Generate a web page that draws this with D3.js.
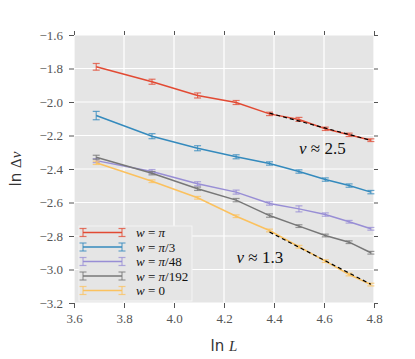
<!DOCTYPE html>
<html>
<head>
<meta charset="utf-8">
<script src="https://cdn.jsdelivr.net/npm/d3@7"></script>
<style>
  body { margin: 0; background: #fff; }
</style>
</head>
<body>
<svg id="chart" width="415" height="359"></svg>
<script>
// system sizes L, plotted as ln L
var sizes = [40, 50, 60, 70, 80, 90, 100, 110, 120];

var seriesLabels = [["\u03c0", ""], ["\u03c0", "/3"], ["\u03c0", "/48"], ["\u03c0", "/192"], ["", "0"]];
var colors = ["#E24A33", "#348ABD", "#988ED5", "#777777", "#FBC15E"];

// ln Δv values
var wPi     = [-1.790, -1.879, -1.961, -2.003, -2.071, -2.104, -2.160, -2.196, -2.228];
var wPi3    = [-2.081, -2.204, -2.276, -2.327, -2.367, -2.415, -2.463, -2.499, -2.538];
var wPi48   = [-2.350, -2.415, -2.488, -2.538, -2.606, -2.638, -2.672, -2.715, -2.757];
var wPi192  = [-2.330, -2.425, -2.518, -2.586, -2.678, -2.741, -2.797, -2.837, -2.900];
var wZero   = [-2.363, -2.473, -2.572, -2.682, -2.767, -2.864, -2.950, -3.030, -3.090];

// error bars
var errPi    = [0.020, 0.015, 0.015, 0.012, 0.010, 0.012, 0.010, 0.010, 0.008];
var errPi3   = [0.025, 0.015, 0.015, 0.012, 0.010, 0.010, 0.010, 0.010, 0.010];
var errPi48  = [0.012, 0.012, 0.012, 0.012, 0.010, 0.018, 0.010, 0.008, 0.008];
var errPi192 = [0.012, 0.010, 0.010, 0.010, 0.010, 0.008, 0.008, 0.008, 0.008];
var errZero  = [0.010, 0.008, 0.008, 0.008, 0.008, 0.008, 0.008, 0.008, 0.008];

var allValues = [wPi, wPi3, wPi48, wPi192, wZero];
var allErrors = [errPi, errPi3, errPi48, errPi192, errZero];

// fitted power laws: slope -1/nu over the largest sizes
var fitSeries = [0, 4];
var fitNu = [2.5, 1.3];
var fitFromL = 80;

var xTicks = [3.6, 3.8, 4.0, 4.2, 4.4, 4.6, 4.8];
var yTicks = [-1.6, -1.8, -2.0, -2.2, -2.4, -2.6, -2.8, -3.0, -3.2];

var serif = "'Liberation Serif', 'DejaVu Serif', serif";
var sans = "'DejaVu Sans', sans-serif";

var margin = {top: 35, right: 41, bottom: 56, left: 74};
var width = 415 - margin.left - margin.right;
var height = 359 - margin.top - margin.bottom;

var svg = d3.select("#chart");
var g = svg.append("g").attr("transform", "translate(" + margin.left + "," + margin.top + ")");

var xScale = d3.scaleLinear().domain([3.6, 4.8]).range([0, width]);
var yScale = d3.scaleLinear().domain([-3.2, -1.6]).range([height, 0]);

g.append("rect").attr("width", width).attr("height", height).attr("fill", "#E5E5E5");

// grid
g.selectAll(".gx").data(xTicks).enter().append("line")
  .attr("x1", d => xScale(d)).attr("x2", d => xScale(d))
  .attr("y1", 0).attr("y2", height)
  .attr("stroke", "#fff").attr("stroke-width", 1.2);
g.selectAll(".gy").data(yTicks).enter().append("line")
  .attr("y1", d => yScale(d)).attr("y2", d => yScale(d))
  .attr("x1", 0).attr("x2", width)
  .attr("stroke", "#fff").attr("stroke-width", 1.2);

var fmt = d => d3.format(".1f")(d).replace("-", "\u2212");

function styleAxis(sel) {
  sel.select(".domain").remove();
  sel.selectAll(".tick line").attr("stroke", "#555");
  sel.selectAll(".tick text").attr("fill", "#555").style("font-size", "13px")
    .style("font-family", serif);
}

g.append("g").attr("transform", "translate(0," + height + ")")
  .call(d3.axisBottom(xScale).tickValues(xTicks).tickFormat(fmt).tickSize(5).tickPadding(6))
  .call(styleAxis);
g.append("g")
  .call(d3.axisLeft(yScale).tickValues(yTicks).tickFormat(fmt).tickSize(5).tickPadding(6))
  .call(styleAxis);
g.append("g")
  .call(d3.axisTop(xScale).tickValues(xTicks).tickFormat("").tickSize(4))
  .call(styleAxis);
g.append("g").attr("transform", "translate(" + width + ",0)")
  .call(d3.axisRight(yScale).tickValues(yTicks).tickFormat("").tickSize(4))
  .call(styleAxis);

var line = d3.line().x(d => xScale(d.x)).y(d => yScale(d.y));

var series = allValues.map(function(vals, i) {
  return vals.map(function(v, j) {
    return {x: Math.log(sizes[j]), y: v, e: allErrors[i][j]};
  });
});

var capW = 3.5;
series.forEach(function(pts, i) {
  var sg = g.append("g");
  sg.append("path").datum(pts).attr("d", line)
    .attr("fill", "none").attr("stroke", colors[i]).attr("stroke-width", 1.5);
  var eb = sg.selectAll(".eb").data(pts).enter().append("g")
    .attr("stroke", colors[i]).attr("stroke-opacity", 0.75).attr("stroke-width", 1.2);
  eb.append("line")
    .attr("x1", d => xScale(d.x)).attr("x2", d => xScale(d.x))
    .attr("y1", d => yScale(d.y - d.e)).attr("y2", d => yScale(d.y + d.e));
  eb.append("line")
    .attr("x1", d => xScale(d.x) - capW).attr("x2", d => xScale(d.x) + capW)
    .attr("y1", d => yScale(d.y - d.e)).attr("y2", d => yScale(d.y - d.e));
  eb.append("line")
    .attr("x1", d => xScale(d.x) - capW).attr("x2", d => xScale(d.x) + capW)
    .attr("y1", d => yScale(d.y + d.e)).attr("y2", d => yScale(d.y + d.e));
});

// fit lines
fitSeries.forEach(function(si, k) {
  var slope = -1 / fitNu[k];
  var pts = series[si].filter((d, j) => sizes[j] >= fitFromL);
  var b = d3.mean(pts, d => d.y - slope * d.x);
  var x0 = d3.min(pts, d => d.x), x1 = d3.max(pts, d => d.x);
  g.append("path").datum([{x: x0, y: slope * x0 + b}, {x: x1, y: slope * x1 + b}])
    .attr("d", line).attr("fill", "none").attr("stroke", "#000")
    .attr("stroke-width", 1.2).attr("stroke-dasharray", "4,3");
});

// annotations
var notes = [{x: 4.5, y: -2.31, t: "2.5"}, {x: 4.25, y: -2.96, t: "1.3"}];
notes.forEach(function(n) {
  var t = g.append("text").attr("x", xScale(n.x)).attr("y", yScale(n.y))
    .style("font-size", "17px").style("font-family", serif).attr("fill", "#111");
  t.append("tspan").style("font-style", "italic").text("\u03bd");
  t.append("tspan").text(" \u2248 " + n.t);
});

// legend
var lg = g.append("g").attr("transform", "translate(5,191)");
lg.append("rect").attr("width", 113).attr("height", 75)
  .attr("fill", "#E5E5E5").attr("stroke", "#f4f4f4").attr("stroke-width", 1);
seriesLabels.forEach(function(lab, i) {
  var yy = 6.5 + i * 14.5;
  var row = lg.append("g").attr("transform", "translate(0," + yy + ")");
  var hs = row.append("g").attr("stroke", colors[i]);
  hs.append("line").attr("x1", 4).attr("x2", 43).attr("y1", 0).attr("y2", 0).attr("stroke-width", 1.5);
  [4, 43].forEach(function(cx) {
    hs.append("line").attr("x1", cx).attr("x2", cx).attr("y1", -4).attr("y2", 4)
      .attr("stroke-width", 1.2).attr("stroke-opacity", 0.75);
    hs.append("line").attr("x1", cx - capW).attr("x2", cx + capW).attr("y1", -4).attr("y2", -4)
      .attr("stroke-width", 1.2).attr("stroke-opacity", 0.75);
    hs.append("line").attr("x1", cx - capW).attr("x2", cx + capW).attr("y1", 4).attr("y2", 4)
      .attr("stroke-width", 1.2).attr("stroke-opacity", 0.75);
  });
  var t = row.append("text").attr("x", 57).attr("y", 4.5)
    .style("font-size", "13px").style("font-family", serif).attr("fill", "#111");
  t.append("tspan").style("font-style", "italic").text("w");
  t.append("tspan").text(" = ");
  t.append("tspan").style("font-style", "italic").text(lab[0]);
  t.append("tspan").text(lab[1]);
});

// axis titles
var xt = svg.append("text").attr("x", margin.left + width / 2).attr("y", 351)
  .attr("text-anchor", "middle").style("font-size", "15px").style("font-family", serif).attr("fill", "#333");
xt.append("tspan").style("font-family", sans).text("ln ");
xt.append("tspan").style("font-style", "italic").text("L");

var yt = svg.append("text").attr("transform", "translate(21," + (margin.top + height / 2) + ") rotate(-90)")
  .attr("text-anchor", "middle").style("font-size", "15px").style("font-family", serif).attr("fill", "#333");
yt.append("tspan").style("font-family", sans).text("ln ");
yt.append("tspan").text("\u0394");
yt.append("tspan").style("font-style", "italic").text("v");
</script>
</body>
</html>
